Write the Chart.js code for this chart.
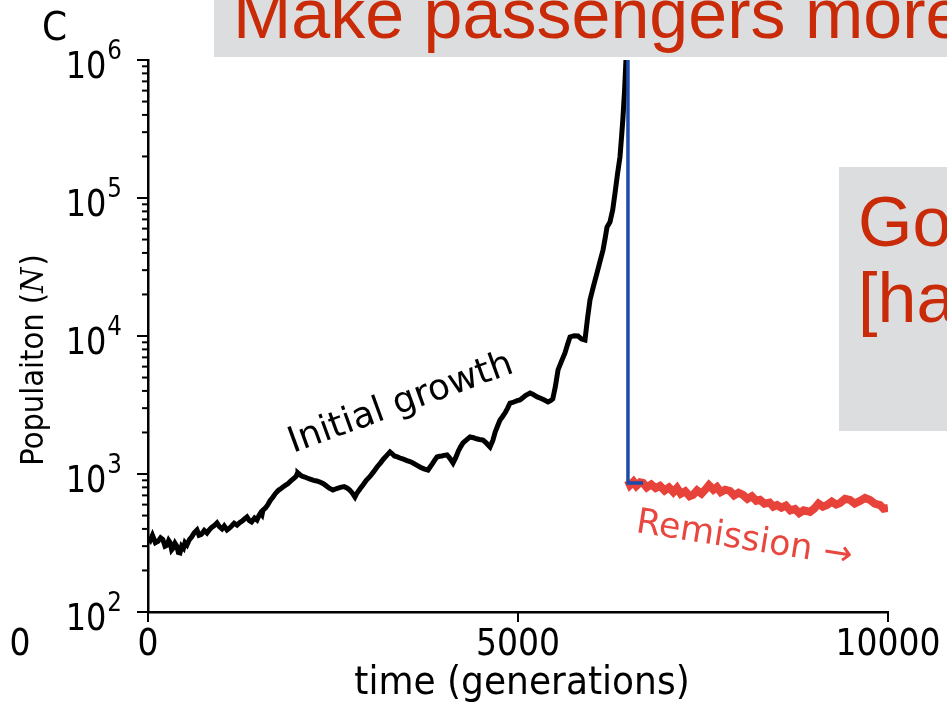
<!DOCTYPE html>
<html>
<head>
<meta charset="utf-8">
<script src="https://cdn.jsdelivr.net/npm/chart.js@4.4.1/dist/chart.umd.min.js"></script>
<style>
html, body { margin: 0; padding: 0; background: #fff; }
canvas { display: block; }
</style>
</head>
<body>
<canvas id="popChart" width="947" height="702"></canvas>
<script>
// initial growth (black)
const blackGen = [0, 30, 60, 100, 135, 170, 200, 230, 257, 280, 300, 320, 338, 365, 390, 410, 432, 455, 480, 500,
    527, 560, 590, 625, 662, 690, 720, 760, 797, 830, 860, 900, 932, 965, 1000, 1030, 1068, 1100, 1130, 1165,
    1203, 1240, 1270, 1300, 1338, 1370, 1400, 1440, 1473, 1500, 1520, 1540, 1554, 1590, 1620, 1650, 1689, 1720, 1760, 1790,
    1824, 1860, 1890, 1920, 1946, 1975, 2000, 2015, 2027, 2060, 2090, 2120, 2149, 2200, 2240, 2280, 2324, 2370, 2410, 2450,
    2500, 2550, 2600, 2650, 2689, 2720, 2750, 2775, 2797, 2820, 2850, 2880, 2905, 2950, 3000, 3050, 3095, 3140, 3180, 3230,
    3270, 3300, 3330, 3370, 3405, 3450, 3500, 3540, 3581, 3630, 3680, 3730, 3784, 3810, 3840, 3870, 3905, 3940, 3970, 4000,
    4041, 4080, 4122, 4160, 4190, 4220, 4257, 4300, 4351, 4400, 4440, 4480, 4527, 4570, 4622, 4660, 4690, 4720, 4757, 4790,
    4830, 4860, 4892, 4930, 4960, 4990, 5027, 5060, 5100, 5130, 5162, 5200, 5230, 5260, 5297, 5350, 5405, 5440, 5470, 5505,
    5541, 5590, 5635, 5670, 5703, 5760, 5811, 5860, 5905, 5940, 5973, 6020, 6068, 6110, 6149, 6180, 6203, 6243, 6280, 6311,
    6345, 6378, 6400, 6419, 6440, 6459, 6480];
const blackPop = [344, 330, 360, 318, 325, 345, 335, 300, 305, 330, 318, 282, 290, 315, 300, 270, 268, 300, 290, 318,
    306, 335, 350, 375, 393, 360, 365, 390, 374, 395, 410, 425, 442, 415, 400, 420, 393, 405, 420, 440,
    427, 445, 455, 470, 488, 460, 450, 480, 464, 500, 520, 505, 548, 570, 600, 640, 681, 720, 760, 780,
    805, 830, 850, 880, 905, 935, 960, 1000, 1016, 980, 960, 950, 935, 915, 900, 890, 875, 850, 820, 790,
    766, 785, 800, 810, 792, 770, 740, 710, 681, 720, 760, 800, 832, 900, 960, 1040, 1124, 1200, 1280, 1370,
    1443, 1400, 1350, 1330, 1306, 1280, 1250, 1230, 1202, 1160, 1120, 1090, 1069, 1120, 1180, 1250, 1328, 1345, 1350, 1365,
    1374, 1300, 1202, 1320, 1450, 1560, 1679, 1760, 1854, 1830, 1800, 1780, 1762, 1680, 1570, 1750, 2000, 2200, 2462, 2600,
    2800, 3000, 3266, 3300, 3350, 3400, 3437, 3550, 3700, 3780, 3864, 3780, 3700, 3620, 3556, 3450, 3327, 3400, 3500, 4300,
    5680, 6600, 7540, 8700, 9840, 10050, 10000, 9500, 9350, 13500, 18230, 23000, 28640, 35000, 41980, 52000, 61600, 67000, 82000, 108600,
    150000, 198000, 280000, 386000, 600000, 1000000, 1600000];

// remission (red)
const redGen = [6486, 6514, 6560, 6600, 6650, 6689, 6740, 6800, 6860, 6919, 6980, 7040, 7100, 7149, 7200, 7260, 7320, 7365,
    7420, 7480, 7527, 7580, 7640, 7689, 7740, 7800, 7865, 7920, 7980, 8041, 8100, 8160, 8220, 8270, 8330, 8400, 8450, 8500,
    8560, 8620, 8680, 8743, 8800, 8860, 8946, 9000, 9060, 9120, 9176, 9240, 9300, 9351, 9420, 9486, 9550, 9622, 9690, 9757,
    9820, 9892, 9940, 10000];
const redPop = [900, 832, 880, 820, 870, 861, 800, 840, 790, 819, 760, 800, 740, 792, 720, 750, 690, 705,
    760, 720, 766, 830, 770, 805, 740, 770, 753, 700, 730, 705, 660, 690, 640, 649, 610, 620, 580, 596,
    570, 590, 545, 558, 520, 545, 531, 560, 610, 580, 596, 630, 600, 615, 660, 649, 610, 638, 670, 649,
    610, 596, 560, 567];

// treatment drop (blue)
const blueGen = [6486, 6486, 6690];
const bluePop = [2000000, 860, 860];

const xTicks = [0, 5000, 10000];
const xTickLabels = ['0', '5000', '10000'];
const yTickExp = [2, 3, 4, 5, 6];

function toPoints(xs, ys) {
    return xs.map((x, i) => ({ x: x, y: ys[i] }));
}

// text with a vertical stretch, the figure was pasted taller than wide
function tallText(ctx, text, x, y, sy) {
    ctx.save();
    ctx.translate(x, y);
    ctx.scale(1, sy);
    ctx.fillText(text, 0, 0);
    ctx.restore();
}

const overlayPlugin = {
    id: 'overlay',
    afterDraw(chart) {
        const ctx = chart.ctx;
        const xs = chart.scales.x;
        const ys = chart.scales.y;
        const area = chart.chartArea;
        ctx.save();

        // ticks
        ctx.strokeStyle = '#000';
        ctx.lineWidth = 2;
        const tick = (x1, y1, x2, y2) => {
            ctx.beginPath();
            ctx.moveTo(x1, y1);
            ctx.lineTo(x2, y2);
            ctx.stroke();
        };
        yTickExp.forEach(e => {
            const py = ys.getPixelForValue(Math.pow(10, e));
            tick(area.left - 11, py, area.left, py);
            if (e < 6) {
                for (let k = 2; k <= 9; k++) {
                    const pm = ys.getPixelForValue(k * Math.pow(10, e));
                    tick(area.left - 6, pm, area.left, pm);
                }
            }
        });
        xTicks.forEach(v => {
            const px = xs.getPixelForValue(v);
            tick(px, area.bottom, px, area.bottom + 10);
        });

        // y tick labels 10^n
        ctx.fillStyle = '#000';
        ctx.textBaseline = 'alphabetic';
        ctx.textAlign = 'left';
        yTickExp.forEach(e => {
            const py = ys.getPixelForValue(Math.pow(10, e));
            ctx.font = '23px "DejaVu Sans"';
            const sup = String(e);
            const ws = ctx.measureText(sup).width;
            ctx.font = '32px "DejaVu Sans"';
            const w10 = ctx.measureText('10').width;
            const sx = 122 - ws;
            tallText(ctx, '10', sx - w10 - 1, py + 18, 1.15);
            ctx.font = '23px "DejaVu Sans"';
            tallText(ctx, sup, sx, py - 1, 1.12);
        });

        // x tick labels
        ctx.font = '33px "DejaVu Sans"';
        ctx.textAlign = 'center';
        xTicks.forEach((v, i) => {
            tallText(ctx, xTickLabels[i], xs.getPixelForValue(v), 655, 1.12);
        });
        tallText(ctx, '0', 20, 655, 1.12);

        // axis titles
        ctx.font = '36px "DejaVu Sans"';
        tallText(ctx, 'time (generations)', 522, 694, 1.1);

        ctx.save();
        ctx.translate(43, 360);
        ctx.rotate(-Math.PI / 2);
        ctx.scale(1, 1.12);
        ctx.textAlign = 'left';
        const partA = 'Populaiton (';
        const partC = ')';
        ctx.font = 'italic 29px "DejaVu Serif"';
        const wN = ctx.measureText('N').width;
        ctx.font = '29px "DejaVu Sans"';
        const wA = ctx.measureText(partA).width;
        const wC = ctx.measureText(partC).width;
        let tx = -(wA + wN + wC + 2) / 2;
        ctx.fillText(partA, tx, 0);
        tx += wA;
        ctx.font = 'italic 29px "DejaVu Serif"';
        ctx.fillText('N', tx, 0);
        tx += wN + 2;
        ctx.font = '29px "DejaVu Sans"';
        ctx.fillText(partC, tx, 0);
        ctx.restore();

        // panel letter
        ctx.textAlign = 'left';
        ctx.font = '36px "DejaVu Sans"';
        tallText(ctx, 'C', 42, 40, 1.1);

        // annotations
        ctx.save();
        ctx.translate(293, 453);
        ctx.rotate(-20 * Math.PI / 180);
        ctx.font = '36px "DejaVu Sans"';
        ctx.fillStyle = '#000';
        ctx.fillText('Initial growth', 0, 0);
        ctx.restore();

        ctx.save();
        ctx.translate(635, 532);
        ctx.rotate(9 * Math.PI / 180);
        ctx.font = '35px "DejaVu Sans"';
        ctx.fillStyle = '#e8473f';
        ctx.fillText('Remission \u2192', 0, 0);
        ctx.restore();

        // slide overlay boxes
        ctx.fillStyle = '#dcdddf';
        ctx.fillRect(214, 0, 733, 57);
        ctx.fillRect(839, 167, 108, 264);
        ctx.fillStyle = '#c92a08';
        ctx.font = '70px "Liberation Sans"';
        ctx.textAlign = 'left';
        ctx.fillText('Make passengers more', 233, 38);
        ctx.fillText('Go', 858, 246);
        ctx.fillText('[ha', 858, 322);

        ctx.restore();
    }
};

new Chart(document.getElementById('popChart').getContext('2d'), {
    type: 'line',
    data: {
        datasets: [
            {
                label: 'treatment',
                data: toPoints(blueGen, bluePop),
                borderColor: '#1b4ca8',
                borderWidth: 3.5,
                pointRadius: 0,
                tension: 0
            },
            {
                label: 'remission',
                data: toPoints(redGen, redPop),
                borderColor: '#e8433a',
                borderWidth: 8,
                pointRadius: 0,
                tension: 0
            },
            {
                label: 'initial growth',
                data: toPoints(blackGen, blackPop),
                borderColor: '#000000',
                borderWidth: 5,
                pointRadius: 0,
                tension: 0
            }
        ]
    },
    options: {
        responsive: false,
        animation: false,
        devicePixelRatio: 1,
        layout: { padding: { left: 0, top: 60, right: 59, bottom: 0 } },
        plugins: {
            legend: { display: false },
            tooltip: { enabled: false }
        },
        scales: {
            x: {
                type: 'linear',
                min: 0,
                max: 10000,
                grid: { display: false },
                ticks: { display: false },
                border: { display: true, color: '#000', width: 2.5 },
                afterFit: (scale) => { scale.height = 90; }
            },
            y: {
                type: 'logarithmic',
                min: 100,
                max: 1000000,
                grid: { display: false },
                ticks: { display: false },
                border: { display: true, color: '#000', width: 2.5 },
                afterFit: (scale) => { scale.width = 148; }
            }
        }
    },
    plugins: [overlayPlugin]
});
</script>
</body>
</html>
